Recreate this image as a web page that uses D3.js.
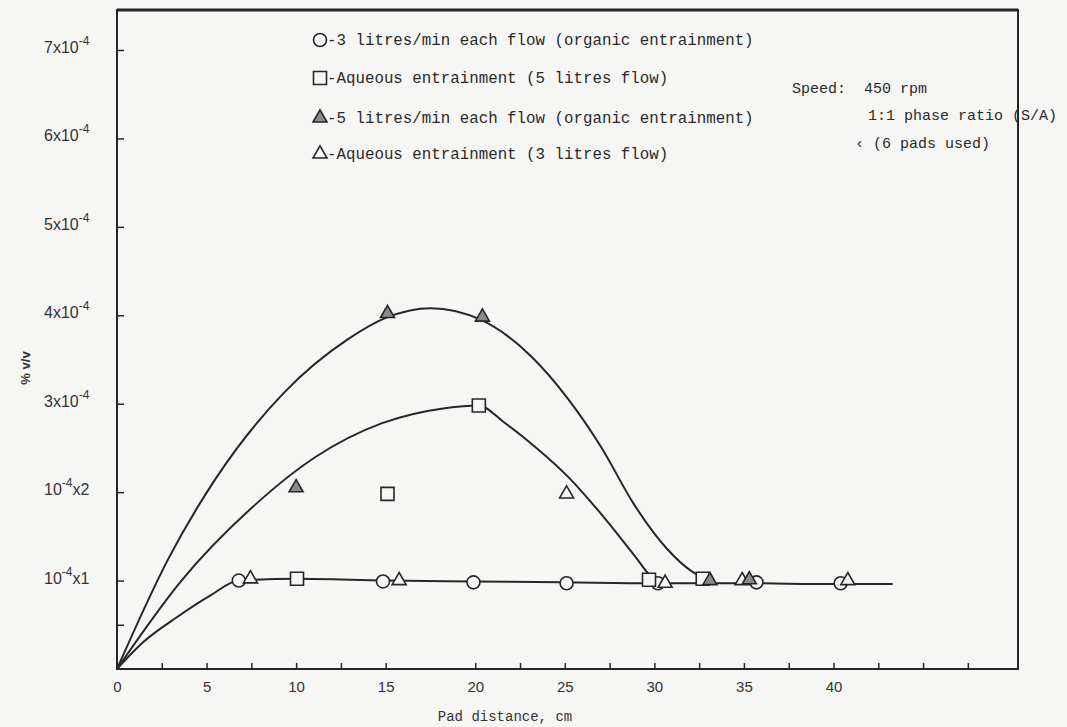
<!DOCTYPE html>
<html>
<head>
<meta charset="utf-8">
<script src="https://cdn.jsdelivr.net/npm/d3@7"></script>
<style>
  body { margin: 0; background: #f6f6f4; }
  svg { display: block; }
  .mono { font-family: "Liberation Mono", "DejaVu Sans Mono", monospace; }
  .sans { font-family: "Liberation Sans", Arial, sans-serif; }
</style>
</head>
<body>
<svg id="chart"></svg>
<script>

// ---- data (x = pad distance cm, y = % v/v in units of 1e-4) ----
const circlePts    = [[6.8, 1.0], [14.85, 0.99], [19.9, 0.98], [25.1, 0.97], [30.2, 0.97], [35.7, 0.98], [40.4, 0.97]];
const squarePts    = [[10.05, 1.02], [15.1, 1.98], [20.2, 2.98], [29.7, 1.01], [32.7, 1.02]];
const filledTriPts = [[10.0, 2.05], [15.1, 4.02], [20.4, 3.98], [33.1, 1.0], [35.3, 1.01]];
const openTriPts   = [[7.45, 1.02], [15.75, 1.0], [25.1, 1.98], [30.6, 0.97], [34.9, 1.0], [40.8, 1.0]];

// hand drawn curves
const curveLow = [[0, 0], [1.5, 0.31], [3.3, 0.58], [5.2, 0.83], [6.8, 1.0], [10, 1.02], [15, 1.0], [20, 0.99], [25, 0.98], [30, 0.97], [35, 0.97], [40, 0.96], [43.3, 0.96]];
const curveMid = [[0, 0], [3.6, 1.0], [7.4, 1.8], [11.1, 2.4], [14.8, 2.78], [18.3, 2.95], [20.2, 2.98], [21.6, 2.79], [23.3, 2.52], [25.2, 2.17], [27.0, 1.76], [28.9, 1.28], [29.8, 1.05], [30.4, 0.98]];
const curveTop = [[0, 0], [2.85, 1.24], [5.5, 2.15], [9.3, 3.12], [12.9, 3.73], [15.0, 3.97], [17.5, 4.08], [20.3, 3.95], [23.1, 3.54], [25.2, 3.05], [27.0, 2.52], [28.9, 1.85], [30.7, 1.36], [32.2, 1.09], [33.3, 1.0]];

// axis ticks / labels
const xLabelVals = [0, 5, 10, 15, 20, 25, 30, 35, 40];
const xMinorTicks = [2.5, 5, 7.5, 10, 12.5, 15, 20, 22.5, 25, 27.5, 30, 32.5, 35, 37.5, 40, 42.5, 45, 47.5];
const yTickVals = [0.5, 1, 2, 3, 4, 5, 6, 7];
const yLabelVals = [1, 2, 3, 4, 5, 6, 7];
// [before, superscript, after]
const yLabelParts = [["10", "-4", "x1"], ["10", "-4", "x2"], ["3x10", "-4", ""], ["4x10", "-4", ""], ["5x10", "-4", ""], ["6x10", "-4", ""], ["7x10", "-4", ""]];

const legendTexts = [
  "-3 litres/min each flow (organic entrainment)",
  "-Aqueous entrainment (5 litres flow)",
  "-5 litres/min each flow (organic entrainment)",
  "-Aqueous entrainment (3 litres flow)"
];
const noteTexts = ["Speed:  450 rpm", "1:1 phase ratio (S/A)", "\u2039 (6 pads used)"];

const width = 1067, height = 727;
const ink = "#262626";

const svg = d3.select("#chart").attr("width", width).attr("height", height);

const frame = {left: 117, right: 1018, top: 10, bottom: 669};

const x = d3.scaleLinear().domain([0, 50.3]).range([frame.left, frame.right]);
const y = d3.scaleLinear().domain([0, 7]).range([frame.bottom, 50]);

// frame
svg.append("rect")
  .attr("x", frame.left).attr("y", frame.top)
  .attr("width", frame.right - frame.left).attr("height", frame.bottom - frame.top)
  .attr("fill", "none").attr("stroke", ink).attr("stroke-width", 2);
svg.append("line")
  .attr("x1", frame.left).attr("x2", frame.right)
  .attr("y1", frame.top).attr("y2", frame.top)
  .attr("stroke", ink).attr("stroke-width", 3);

// x ticks (inward) and labels
const xTicks = svg.append("g")
  .attr("transform", `translate(0,${frame.bottom})`)
  .call(d3.axisBottom(x).tickValues(xMinorTicks).tickSize(-6).tickFormat(""));
xTicks.select(".domain").remove();
xTicks.selectAll("line").attr("stroke", ink).attr("stroke-width", 1.5);

const xLabels = svg.append("g")
  .attr("transform", `translate(0,${frame.bottom})`)
  .call(d3.axisBottom(x).tickValues(xLabelVals).tickSize(0).tickPadding(12));
xLabels.select(".domain").remove();
xLabels.selectAll("text")
  .attr("class", "sans")
  .style("font-size", "15px")
  .attr("fill", "#333");

// y ticks
const yTicks = svg.append("g")
  .attr("transform", `translate(${frame.left},0)`)
  .call(d3.axisLeft(y).tickValues(yTickVals).tickSize(-7).tickFormat(""));
yTicks.select(".domain").remove();
yTicks.selectAll("line").attr("stroke", ink).attr("stroke-width", 1.5);

// y labels with superscript
const yl = svg.append("g").selectAll("text")
  .data(yLabelVals)
  .enter().append("text")
    .attr("class", "sans")
    .attr("x", 44)
    .attr("y", (d) => y(d) + 3)
    .attr("fill", "#333")
    .style("font-size", "16px");
yl.append("tspan").text((d, i) => yLabelParts[i][0]);
yl.append("tspan").attr("dy", -8).style("font-size", "12px").text((d, i) => yLabelParts[i][1]);
yl.append("tspan").attr("dy", 8).text((d, i) => yLabelParts[i][2]);

// axis titles
svg.append("text")
  .attr("class", "sans")
  .attr("transform", "translate(30,368) rotate(-90)")
  .attr("text-anchor", "middle")
  .attr("fill", "#333")
  .style("font-size", "13px")
  .style("font-weight", "bold")
  .text("% v/v");

svg.append("text")
  .attr("class", "mono")
  .attr("x", 505).attr("y", 721)
  .attr("text-anchor", "middle")
  .attr("fill", "#333")
  .style("font-size", "14px")
  .text("Pad distance, cm");

// curves
const line = d3.line()
  .x((d) => x(d[0]))
  .y((d) => y(d[1]))
  .curve(d3.curveMonotoneX);

[curveLow, curveMid, curveTop].forEach((c) => {
  svg.append("path")
    .attr("d", line(c))
    .attr("fill", "none")
    .attr("stroke", ink)
    .attr("stroke-width", 2);
});

// markers
const sym = {
  circle: d3.symbol().type(d3.symbolCircle).size(Math.PI * 6.5 * 6.5),
  square: d3.symbol().type(d3.symbolSquare).size(13 * 13),
  triangle: d3.symbol().type(d3.symbolTriangle).size(85)
};

function drawMarkers(pts, shape, fill) {
  svg.append("g").selectAll("path")
    .data(pts)
    .enter().append("path")
      .attr("d", sym[shape]())
      .attr("transform", (d) => `translate(${x(d[0])},${y(d[1])})`)
      .attr("fill", fill)
      .attr("stroke", ink)
      .attr("stroke-width", 1.6);
}

drawMarkers(circlePts, "circle", "#f6f6f4");
drawMarkers(squarePts, "square", "#f6f6f4");
drawMarkers(openTriPts, "triangle", "#f6f6f4");
drawMarkers(filledTriPts, "triangle", "#8a8a8a");

// legend
const legendShapes = [["circle", "#f6f6f4"], ["square", "#f6f6f4"], ["triangle", "#8a8a8a"], ["triangle", "#f6f6f4"]];
const legendY = [40, 78, 118, 154];

legendTexts.forEach((t, i) => {
  svg.append("path")
    .attr("d", sym[legendShapes[i][0]]())
    .attr("transform", `translate(320,${legendY[i]})`)
    .attr("fill", legendShapes[i][1])
    .attr("stroke", ink)
    .attr("stroke-width", 1.6);
  svg.append("text")
    .attr("class", "mono")
    .attr("x", 327).attr("y", legendY[i] + 5)
    .attr("fill", "#2a2a2a")
    .style("font-size", "15.8px")
    .text(t);
});

// notes on the right
const noteX = [792, 868, 855];
const noteY = [88, 115, 143];
noteTexts.forEach((t, i) => {
  svg.append("text")
    .attr("class", "mono")
    .attr("x", noteX[i]).attr("y", noteY[i] + 5)
    .attr("fill", "#2a2a2a")
    .style("font-size", "15px")
    .attr("xml:space", "preserve")
    .text(t);
});

</script>
</body>
</html>
